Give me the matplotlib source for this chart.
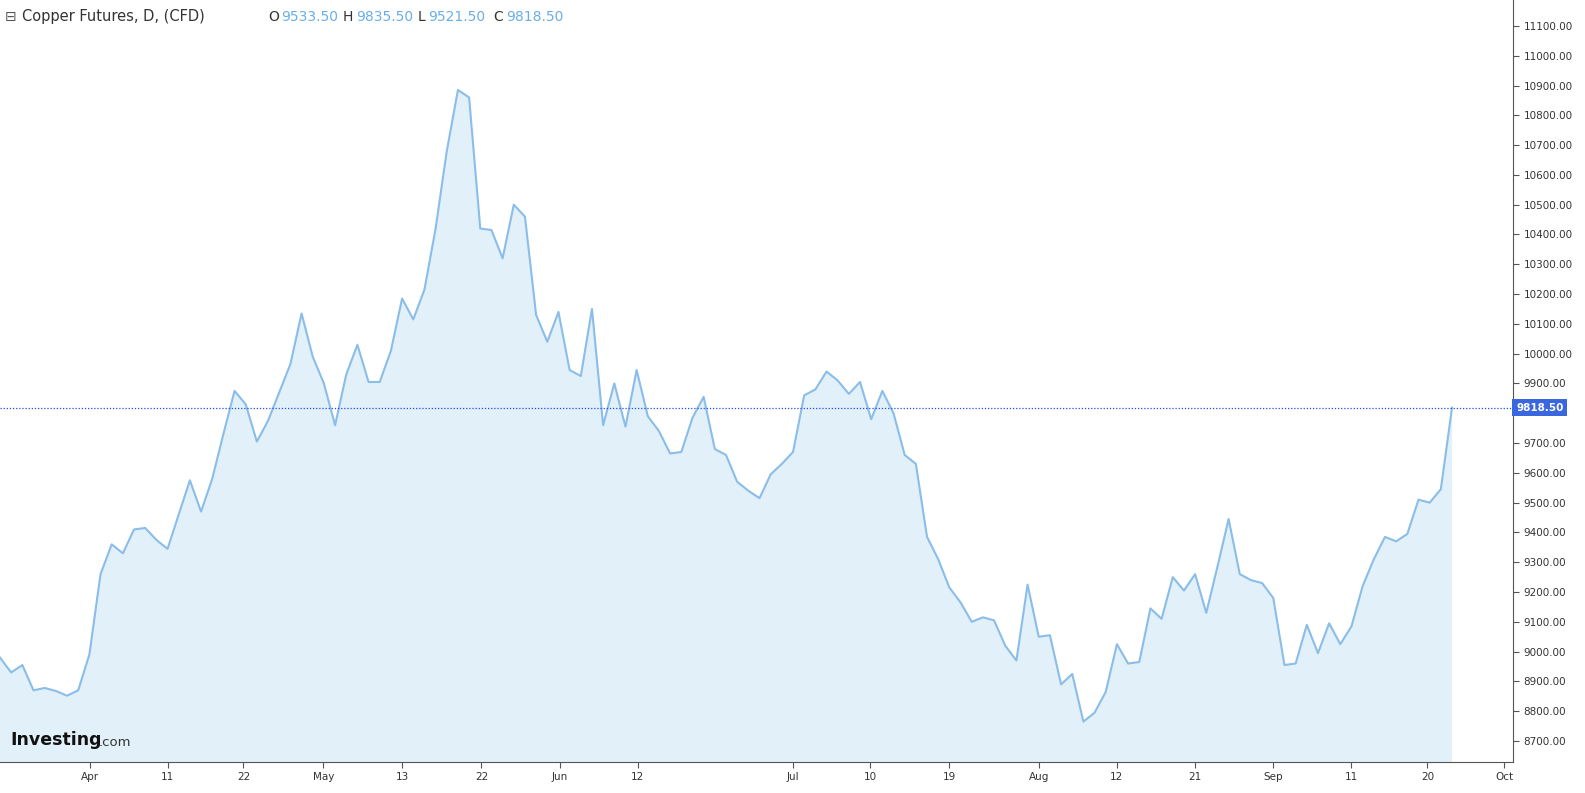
import matplotlib
matplotlib.use("Agg")
import matplotlib.pyplot as plt
import numpy as np

prices = [8980,8930,8955,8870,8878,8868,8852,8870,8990,9260,9360,9330,9410,9415,9375,9345,9460,9575,9470,9580,
9730,9875,9830,9705,9775,9870,9965,10135,9990,9900,9760,9930,10030,9905,9905,10010,10185,10115,10215,10420,
10680,10885,10860,10420,10415,10320,10500,10460,10130,10040,10140,9945,9925,10150,9760,9900,9755,9945,9790,9740,
9665,9670,9785,9855,9680,9660,9570,9540,9515,9595,9630,9670,9860,9880,9940,9910,9865,9905,9780,9875,
9800,9660,9630,9385,9310,9215,9165,9100,9115,9105,9020,8970,9225,9050,9055,8890,8925,8765,8795,8865,
9025,8960,8965,9145,9110,9250,9205,9260,9130,9285,9445,9260,9240,9230,9180,8955,8960,9090,8995,9095,
9025,9085,9220,9310,9385,9370,9395,9510,9500,9545,9818.5]
tick_labels = ["Apr","11","22","May","13","22","Jun","12","Jul","10","19","Aug","12","21","Sep","11","20","Oct"]
tick_pos = [8.06,15.0,21.8,28.96,36.0,43.1,50.1,57.1,71.0,77.9,85.0,93.0,100.0,107.0,114.0,121.0,127.8,134.7]
y_ticks = list(range(8700, 11101, 100))

W, H = 1585, 793
n = len(prices)
fig = plt.figure(figsize=(W/100, H/100), dpi=100)
ax = fig.add_axes([0, 31/H, 1513/W, 1-31/H])
x = np.arange(n)
ax.fill_between(x, prices, 8000, color="#e1f0f9", lw=0)
ax.plot(x, prices, color="#8bbde9", lw=1.5)
ax.axhline(prices[-1], color="#1f4fe0", lw=0.9, ls=(0, (1, 1.5)))
ax.set_xlim(0, (n-1)*1513/1452)
ax.set_ylim(8629.5, 11187)
ax.yaxis.tick_right()
ax.set_yticks(y_ticks)
ax.set_yticklabels(["" if abs(v-prices[-1]) < 60 else f"{v:.2f}" for v in y_ticks], fontsize=7.5, color="#333333")
ax.set_xticks(tick_pos)
ax.set_xticklabels(tick_labels, fontsize=7.5, color="#333333")
ax.tick_params(axis="both", length=4, color="#555555")
for s in ["top", "left"]:
    ax.spines[s].set_visible(False)
ax.spines["right"].set_color("#555555")
ax.spines["bottom"].set_color("#555555")
ax.text(1.002, (prices[-1]-8629.5)/(11187-8629.5), f"{prices[-1]:.2f}", transform=ax.transAxes,
        fontsize=7.5, color="white", va="center", ha="left", zorder=10,
        bbox=dict(boxstyle="square,pad=0.35", fc="#3a66e0", ec="none"), fontweight="bold")
fig.text(22/W, 1-17/H, "Copper Futures, D, (CFD)", fontsize=10.5, color="#333333", va="center")
fig.text(5/W, 1-17/H, "⊟", fontsize=10, color="#555555", va="center")
parts = [("O", 268), ("9533.50", 281), ("H", 343), ("9835.50", 356), ("L", 418), ("9521.50", 428), ("C", 493), ("9818.50", 506)]
for t, px in parts:
    fig.text(px/W, 1-17/H, t, fontsize=10, color="#333333" if len(t) == 1 else "#6aaee8", va="center")
fig.text(10/W, 1-740/H, "Investing", fontsize=12.5, fontweight="bold", color="#111111", va="center")
fig.text(99/W, 1-742/H, ".com", fontsize=9.5, color="#333333", va="center")
fig.savefig("out.png", dpi=100)
